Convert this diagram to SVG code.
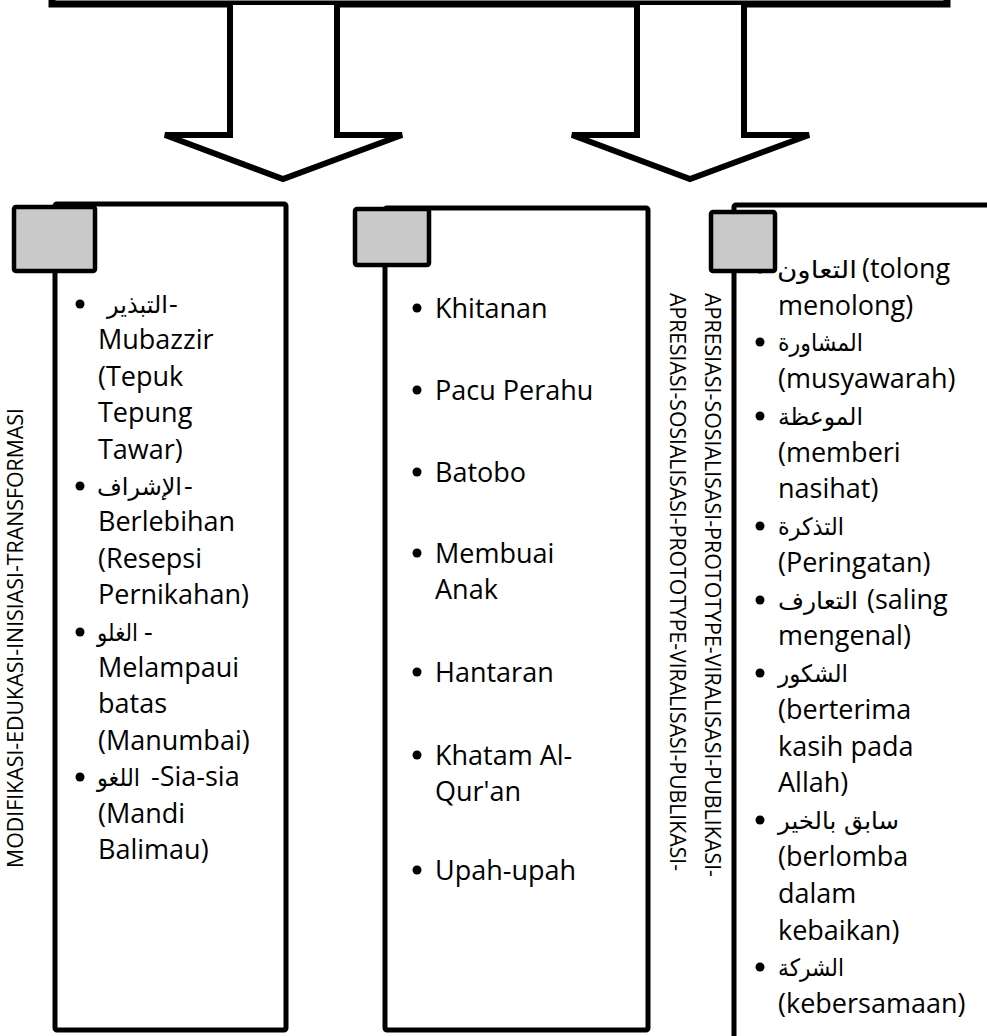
<svg xmlns="http://www.w3.org/2000/svg" width="987" height="1036" viewBox="0 0 987 1036">
<style>
.frame{fill:#fff;stroke:#000;stroke-width:5}
.sq{fill:#c9c9c9;stroke:#000;stroke-width:4.5}
.arrow{fill:#fff;stroke:#000;stroke-width:6;stroke-linejoin:miter}
.t{font-family:"Open Sans","Liberation Sans",sans-serif;font-size:27px;fill:#000}
.ar{font-family:"DejaVu Sans","Noto Sans",sans-serif;font-size:24px;fill:#000}
.v{font-family:"Open Sans","Liberation Sans",sans-serif;font-size:21px;fill:#000}
.b{fill:#000}
</style>
<rect width="987" height="1036" fill="#fff"/>
<g id="top-box">
<rect x="52" y="-60" width="895" height="64" fill="#fff" stroke="#000" stroke-width="7"/>
</g>
<g id="connectors">
<path class="arrow" d="M230,5 V135 H165 L283,179 L402,135 H337 V5"/>
<path class="arrow" d="M637,5 V135 H572 L690,179 L809,135 H744 V5"/>
</g>
<g id="label-left">
<text class="v" transform="translate(23,868) rotate(-90)" textLength="460" lengthAdjust="spacingAndGlyphs">MODIFIKASI-EDUKASI-INISIASI-TRANSFORMASI</text>
</g>
<g id="label-mid-1">
<text class="v" transform="translate(670,293) rotate(90)" textLength="578" lengthAdjust="spacingAndGlyphs">APRESIASI-SOSIALISASI-PROTOTYPE-VIRALISASI-PUBLIKASI-</text>
</g>
<g id="label-mid-2">
<text class="v" transform="translate(705,293) rotate(90)" textLength="584" lengthAdjust="spacingAndGlyphs">APRESIASI-SOSIALISASI-PROTOTYPE-VIRALISASI-PUBLIKASI-</text>
</g>
<g id="box-1">
<rect class="frame" x="55" y="204" width="231" height="826" rx="2"/>
<circle class="b" cx="80" cy="304" r="4.5"/>
<text class="ar" x="107" y="313" textLength="61" lengthAdjust="spacingAndGlyphs">التبذير</text>
<text class="t" x="169" y="313">-</text>
<text class="t" x="98" y="349">Mubazzir</text>
<text class="t" x="98" y="386">(Tepuk</text>
<text class="t" x="98" y="422">Tepung</text>
<text class="t" x="98" y="459">Tawar)</text>
<circle class="b" cx="80" cy="486" r="4.5"/>
<text class="ar" x="97" y="495" textLength="85" lengthAdjust="spacingAndGlyphs">الإشراف</text>
<text class="t" x="184" y="495">-</text>
<text class="t" x="98" y="531">Berlebihan</text>
<text class="t" x="98" y="568">(Resepsi</text>
<text class="t" x="98" y="604">Pernikahan)</text>
<circle class="b" cx="80" cy="632" r="4.5"/>
<text class="ar" x="97" y="641" textLength="41" lengthAdjust="spacingAndGlyphs">الغلو</text>
<text class="t" x="144" y="641">-</text>
<text class="t" x="98" y="677">Melampaui</text>
<text class="t" x="98" y="713">batas</text>
<text class="t" x="98" y="750">(Manumbai)</text>
<circle class="b" cx="80" cy="777" r="4.5"/>
<text class="ar" x="97" y="786" textLength="43" lengthAdjust="spacingAndGlyphs">اللغو</text>
<text class="t" x="151" y="786">-Sia-sia</text>
<text class="t" x="98" y="823">(Mandi</text>
<text class="t" x="98" y="859">Balimau)</text>
<rect class="sq" x="14" y="207" width="81" height="64" rx="2"/>
</g>
<g id="box-2">
<rect class="frame" x="385" y="208" width="263" height="822" rx="2"/>
<circle class="b" cx="417" cy="308" r="4.5"/>
<text class="t" x="435" y="318">Khitanan</text>
<circle class="b" cx="417" cy="390" r="4.5"/>
<text class="t" x="435" y="400">Pacu Perahu</text>
<circle class="b" cx="417" cy="472" r="4.5"/>
<text class="t" x="435" y="482">Batobo</text>
<circle class="b" cx="417" cy="553" r="4.5"/>
<text class="t" x="435" y="563">Membuai</text>
<text class="t" x="435" y="599">Anak</text>
<circle class="b" cx="417" cy="672" r="4.5"/>
<text class="t" x="435" y="682">Hantaran</text>
<circle class="b" cx="417" cy="755" r="4.5"/>
<text class="t" x="435" y="765">Khatam Al-</text>
<text class="t" x="435" y="801">Qur'an</text>
<circle class="b" cx="417" cy="870" r="4.5"/>
<text class="t" x="435" y="880">Upah-upah</text>
<rect class="sq" x="355" y="209" width="74" height="56" rx="2"/>
</g>
<g id="box-3">
<rect class="frame" x="734" y="205" width="300" height="900" rx="2"/>
<circle class="b" cx="760" cy="269" r="4.5"/>
<text class="ar" x="777" y="278" textLength="80" lengthAdjust="spacingAndGlyphs">التعاون</text>
<text class="t" x="862" y="278">(tolong</text>
<text class="t" x="778" y="315">menolong)</text>
<circle class="b" cx="760" cy="342" r="4.5"/>
<text class="ar" x="778" y="351" textLength="85" lengthAdjust="spacingAndGlyphs">المشاورة</text>
<text class="t" x="778" y="388">(musyawarah)</text>
<circle class="b" cx="760" cy="416" r="4.5"/>
<text class="ar" x="778" y="425" textLength="85" lengthAdjust="spacingAndGlyphs">الموعظة</text>
<text class="t" x="778" y="462">(memberi</text>
<text class="t" x="778" y="498">nasihat)</text>
<circle class="b" cx="760" cy="526" r="4.5"/>
<text class="ar" x="778" y="535" textLength="66" lengthAdjust="spacingAndGlyphs">التذكرة</text>
<text class="t" x="778" y="572">(Peringatan)</text>
<circle class="b" cx="760" cy="600" r="4.5"/>
<text class="ar" x="778" y="609" textLength="80" lengthAdjust="spacingAndGlyphs">التعارف</text>
<text class="t" x="867" y="609">(saling</text>
<text class="t" x="778" y="645">mengenal)</text>
<circle class="b" cx="760" cy="673" r="4.5"/>
<text class="ar" x="778" y="682" textLength="70" lengthAdjust="spacingAndGlyphs">الشكور</text>
<text class="t" x="778" y="719">(berterima</text>
<text class="t" x="778" y="756">kasih pada</text>
<text class="t" x="778" y="792">Allah)</text>
<circle class="b" cx="760" cy="820" r="4.5"/>
<text class="ar" x="778" y="829" textLength="121" lengthAdjust="spacingAndGlyphs">سابق بالخير</text>
<text class="t" x="778" y="866">(berlomba</text>
<text class="t" x="778" y="903">dalam</text>
<text class="t" x="778" y="940">kebaikan)</text>
<circle class="b" cx="760" cy="967" r="4.5"/>
<text class="ar" x="778" y="976" textLength="66" lengthAdjust="spacingAndGlyphs">الشركة</text>
<text class="t" x="778" y="1013">(kebersamaan)</text>
<rect class="sq" x="711" y="212" width="64" height="59" rx="2"/>
</g>
</svg>
